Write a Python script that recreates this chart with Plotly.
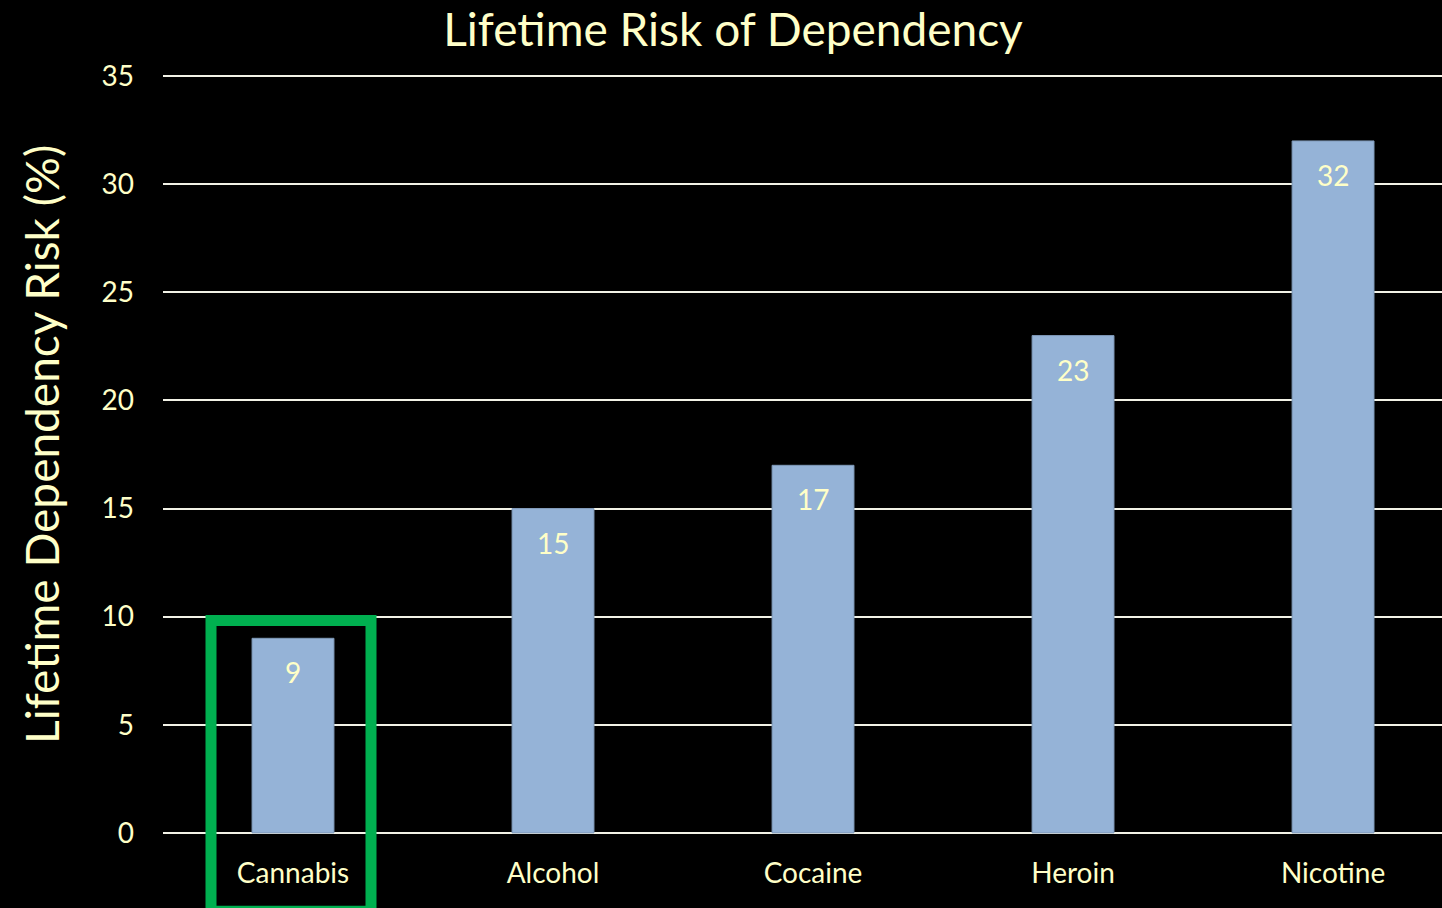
import plotly.graph_objects as go

categories = ["Cannabis", "Alcohol", "Cocaine", "Heroin", "Nicotine"]
risk_values = [9, 15, 17, 23, 32]
y_ticks = [0, 5, 10, 15, 20, 25, 30, 35]

CREAM = "#FFFFC8"
FONT = "Lato, 'Open Sans', sans-serif"

fig = go.Figure()
fig.add_trace(go.Bar(
    x=categories,
    y=risk_values,
    width=0.315,
    marker=dict(color="#95B3D7", line=dict(color="#7F99B8", width=1)),
    hoverinfo="x+y",
))

for c, v in zip(categories, risk_values):
    fig.add_annotation(x=c, y=v, xref="x", yref="y", text=str(v),
                       showarrow=False, yanchor="top", yshift=-15,
                       font=dict(family=FONT, size=28, color=CREAM))

fig.add_annotation(
    text="Lifetime Dependency Risk (%)", textangle=-90,
    xref="paper", yref="paper", x=(42 - 163) / 1279, y=(833 - 445) / 757,
    xanchor="center", yanchor="middle", showarrow=False,
    font=dict(family=FONT, size=46, color=CREAM))

fig.add_shape(type="rect", xref="paper", yref="paper",
              x0=(211 - 163) / 1279, x1=(371 - 163) / 1279,
              y0=(833 - 910) / 757, y1=(833 - 620) / 757,
              line=dict(color="#00B050", width=11), layer="above")

fig.update_layout(
    width=1442, height=908,
    margin=dict(l=163, r=0, t=75, b=74),
    paper_bgcolor="black", plot_bgcolor="black",
    showlegend=False,
    title=dict(text="Lifetime Risk of Dependency", x=733 / 1442, xref="container",
               xanchor="center", y=1 - 30 / 908, yref="container", yanchor="middle",
               font=dict(family=FONT, size=46, color=CREAM)),
    xaxis=dict(range=[-0.5, 4.419], showgrid=False, zeroline=False, showline=False,
               ticks="", ticklabelstandoff=20,
               tickfont=dict(family=FONT, size=28, color=CREAM)),
    yaxis=dict(range=[-0.05, 35.05], tickvals=y_ticks, showgrid=True, gridcolor="#F2F2E6",
               gridwidth=2, zeroline=False, showline=False, ticks="",
               ticklabelstandoff=28,
               tickfont=dict(family=FONT, size=28, color=CREAM)),
)

fig.write_html("out.html", config={"displayModeBar": False},
               post_script="document.body.style.margin='0';document.body.style.background='black';")
